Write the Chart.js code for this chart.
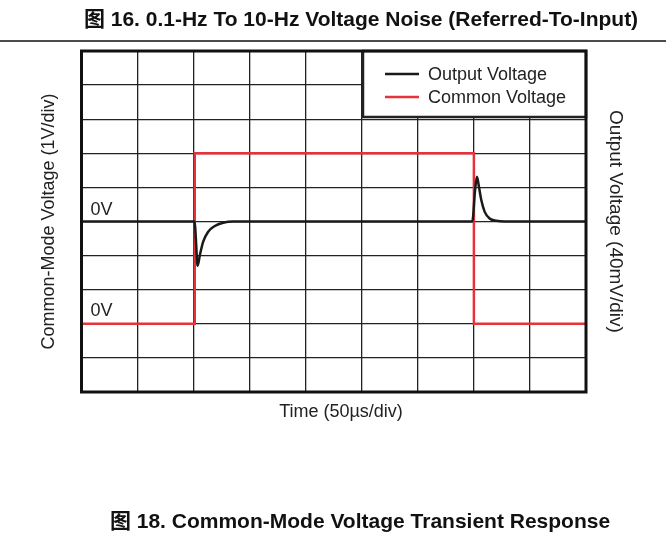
<!DOCTYPE html>
<html>
<head>
<meta charset="utf-8">
<script src="https://cdn.jsdelivr.net/npm/chart.js@4/dist/chart.umd.min.js"></script>
<style>
  html, body { margin: 0; padding: 0; background: #fff; }
  #wrap { width: 666px; height: 537px; }
</style>
</head>
<body>
<div id="wrap"><canvas id="cmChart" width="666" height="537"></canvas></div>
<script>
// time in divisions (50us/div), voltages in divisions
const outputTime = [0, 2.02, 2.04, 2.071, 2.112, 2.171, 2.26, 2.379, 2.527, 2.705, 3.0, 6.972, 7.02, 7.054, 7.09, 7.132, 7.191, 7.28, 7.4, 7.55, 9];
const outputVolts = [5.0, 5.0, 4.5, 3.7, 4.02, 4.41, 4.7, 4.87, 4.965, 5.0, 5.0, 5.0, 5.9, 6.31, 6.02, 5.63, 5.29, 5.09, 5.02, 5.0, 5.0];
const commonTime = [0, 2.02, 2.02, 7.0, 7.0, 9];
const commonVolts = [2, 2, 7, 7, 2, 2];
const seriesLabels = ['Output Voltage', 'Common Voltage'];
const zeroLabels = ['0V', '0V'];

const FONT = "'Liberation Sans', Arial, 'Noto Sans CJK SC', sans-serif";

let outputData = outputTime.map((t, i) => ({ x: t, y: outputVolts[i] }));
let commonData = commonTime.map((t, i) => ({ x: t, y: commonVolts[i] }));

// captions, frame, 0V labels, x title and the boxed legend
const decorPlugin = {
    id: 'decor',
    afterDatasetsDraw(chart) {
        const ctx = chart.ctx;
        const a = chart.chartArea;
        const y = chart.scales.y;
        ctx.save();

        // 0V markers
        ctx.fillStyle = '#222';
        ctx.font = '18px ' + FONT;
        ctx.textBaseline = 'alphabetic';
        ctx.textAlign = 'left';
        ctx.fillText(zeroLabels[0], a.left + 9, y.getPixelForValue(5) - 7);
        ctx.fillText(zeroLabels[1], a.left + 9, y.getPixelForValue(2) - 8);

        // legend box
        const bx = 363, by = a.top, bw = a.right - 363, bh = 66;
        ctx.fillStyle = '#fff';
        ctx.fillRect(bx, by, bw, bh);
        ctx.strokeStyle = '#222';
        ctx.lineWidth = 2.5;
        ctx.strokeRect(bx, by, bw, bh);
        chart.data.datasets.forEach((ds, i) => {
            const ly = by + 23 + i * 23;
            ctx.strokeStyle = ds.borderColor;
            ctx.lineWidth = 2.5;
            ctx.beginPath();
            ctx.moveTo(385, ly);
            ctx.lineTo(419, ly);
            ctx.stroke();
            ctx.fillStyle = '#222';
            ctx.textBaseline = 'middle';
            ctx.fillText(ds.label, 428, ly + 1);
        });

        // thick plot frame
        ctx.strokeStyle = '#111';
        ctx.lineWidth = 3;
        ctx.strokeRect(a.left, a.top, a.right - a.left, a.bottom - a.top);

        // x axis title
        ctx.fillStyle = '#222';
        ctx.font = '18px ' + FONT;
        ctx.textAlign = 'center';
        ctx.textBaseline = 'middle';
        ctx.fillText('Time (50µs/div)', 341, 412);

        // captions
        ctx.fillStyle = '#111';
        ctx.font = 'bold 21px ' + FONT;
        ctx.textBaseline = 'alphabetic';
        ctx.fillText('图 16. 0.1-Hz To 10-Hz Voltage Noise (Referred-To-Input)', 361, 26);
        ctx.fillText('图 18. Common-Mode Voltage Transient Response', 360, 528);

        ctx.strokeStyle = '#111';
        ctx.lineWidth = 1.5;
        ctx.beginPath();
        ctx.moveTo(0, 41);
        ctx.lineTo(666, 41);
        ctx.stroke();
        ctx.restore();
    }
};

let ctx = document.getElementById('cmChart').getContext('2d');

new Chart(ctx, {
    type: 'line',
    data: {
        datasets: [{
            label: seriesLabels[0],
            data: outputData,
            borderColor: '#1a1a1a',
            borderWidth: 2.5,
            pointRadius: 0,
            cubicInterpolationMode: 'monotone',
            fill: false
        }, {
            label: seriesLabels[1],
            data: commonData,
            borderColor: '#e8323a',
            borderWidth: 2.5,
            pointRadius: 0,
            tension: 0,
            fill: false
        }]
    },
    options: {
        responsive: false,
        animation: false,
        layout: { padding: { top: 51, left: 0, right: 0, bottom: 145 } },
        plugins: { legend: { display: false }, tooltip: { enabled: false } },
        scales: {
            x: {
                type: 'linear',
                min: 0,
                max: 9,
                ticks: { display: false, stepSize: 1 },
                grid: { color: '#222', lineWidth: 1.3, drawTicks: false },
                border: { display: false }
            },
            y: {
                type: 'linear',
                position: 'left',
                min: 0,
                max: 10,
                ticks: { display: false, stepSize: 1 },
                grid: { color: '#222', lineWidth: 1.3, drawTicks: false },
                border: { display: false },
                title: {
                    display: true,
                    text: 'Common-Mode Voltage (1V/div)',
                    color: '#222',
                    font: { family: FONT, size: 18 },
                    padding: { top: 38.2, bottom: 21.7 }
                }
            },
            y2: {
                type: 'linear',
                position: 'right',
                min: 0,
                max: 10,
                ticks: { display: false },
                grid: { display: false, drawTicks: false },
                border: { display: false },
                title: {
                    display: true,
                    text: 'Output Voltage (40mV/div)',
                    color: '#222',
                    font: { family: FONT, size: 19 },
                    padding: { top: 39.7, bottom: 17.5 }
                }
            }
        }
    },
    plugins: [decorPlugin]
});
</script>
</body>
</html>
